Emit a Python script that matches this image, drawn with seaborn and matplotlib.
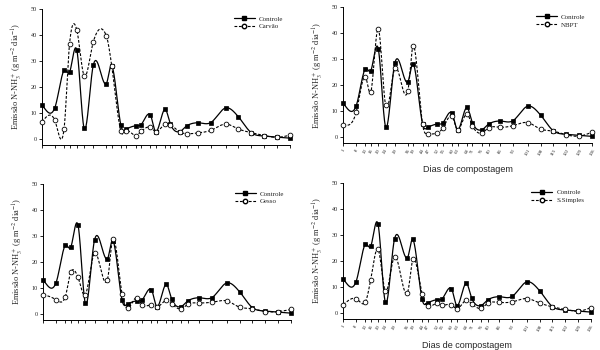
import numpy as np
import pandas as pd
import matplotlib
matplotlib.use("Agg")
import matplotlib.pyplot as plt
import seaborn as sns
from matplotlib.lines import Line2D

sns.set_theme(style="ticks")
plt.rcParams['font.family'] = ['Liberation Serif', 'DejaVu Serif']
plt.rcParams['mathtext.fontset'] = 'stix'

# ---- data ----
days = [1, 8, 13, 16, 20, 24, 29, 36, 39, 44, 47, 52, 55, 60, 63, 68, 71, 76, 80,
        86, 93, 101, 108, 115, 122, 129, 136]
day_labels = [str(d) for d in days]

controle = [13.0, 12.0, 26.3, 25.6, 34.0, 4.0, 28.5, 21.2, 28.2, 5.2, 3.8, 5.0, 5.5,
            9.2, 2.8, 11.4, 5.6, 2.8, 5.1, 6.2, 6.3, 11.9, 8.5, 2.4, 1.1, 0.7, 0.3]
carvao = [6.5, 7.1, 3.8, 36.5, 41.7, 24.2, 37.4, 39.7, 28.0, 2.9, 3.2, 1.3, 2.9,
          4.5, 2.7, 5.7, 5.5, 2.7, 2.0, 2.3, 3.3, 5.7, 3.8, 2.4, 1.3, 0.6, 1.4]
nbpt = [4.7, 9.5, 23.3, 17.3, 41.7, 12.3, 26.5, 17.6, 35.1, 5.1, 1.2, 1.6, 3.5,
        8.0, 2.8, 9.0, 4.4, 1.5, 3.7, 3.8, 4.4, 5.6, 3.1, 2.3, 0.9, 0.4, 1.9]
gesso = [7.4, 5.5, 6.5, 16.0, 14.0, 7.4, 23.4, 13.2, 28.9, 7.5, 2.2, 6.3, 3.4,
         3.4, 2.6, 5.2, 3.8, 1.9, 3.8, 4.2, 4.5, 5.0, 2.6, 2.0, 0.9, 0.9, 1.7]
ssimples = [3.2, 5.5, 4.1, 12.8, 24.5, 8.3, 21.6, 7.7, 20.5, 7.4, 2.6, 3.6, 2.9,
            3.2, 1.5, 4.9, 3.5, 1.7, 3.8, 4.0, 4.2, 5.5, 3.8, 2.3, 1.3, 0.6, 2.0]

panels = [
    ("Carvão", carvao, [0.070, 0.586, 0.413, 0.389], False),
    ("NBPT", nbpt, [0.572, 0.591, 0.415, 0.389], True),
    ("Gesso", gesso, [0.072, 0.086, 0.413, 0.389], False),
    ("S.Simples", ssimples, [0.572, 0.089, 0.413, 0.389], True),
]

PER = 40


def grid(x):
    x = np.asarray(x, float)
    parts = []
    for i in range(len(x) - 1):
        t = np.linspace(0, 1, PER, endpoint=(i == len(x) - 2))
        parts.append((np.full_like(t, i, dtype=int), t))
    idx = np.concatenate([p[0] for p in parts]).astype(int)
    t = np.concatenate([p[1] for p in parts])
    return idx, t


def hermite(x, y):
    x = np.asarray(x, float)
    y = np.asarray(y, float)
    k = len(x)
    m = np.zeros(k)
    m[0] = (y[1] - y[0]) / (x[1] - x[0])
    m[-1] = (y[-1] - y[-2]) / (x[-1] - x[-2])
    for i in range(1, k - 1):
        m[i] = (y[i + 1] - y[i - 1]) / (x[i + 1] - x[i - 1])
    idx, t = grid(x)
    h = x[idx + 1] - x[idx]
    h00 = 2 * t ** 3 - 3 * t ** 2 + 1
    h10 = t ** 3 - 2 * t ** 2 + t
    h01 = -2 * t ** 3 + 3 * t ** 2
    h11 = t ** 3 - t ** 2
    xs = x[idx] + t * h
    ys = h00 * y[idx] + h10 * h * m[idx] + h01 * y[idx + 1] + h11 * h * m[idx + 1]
    return xs, ys


def natural(x, y):
    x = np.asarray(x, float)
    y = np.asarray(y, float)
    k = len(x)
    h = np.diff(x)
    A = np.zeros((k, k))
    b = np.zeros(k)
    A[0, 0] = 1
    A[-1, -1] = 1
    for i in range(1, k - 1):
        A[i, i - 1] = h[i - 1]
        A[i, i] = 2 * (h[i - 1] + h[i])
        A[i, i + 1] = h[i]
        b[i] = 6 * ((y[i + 1] - y[i]) / h[i] - (y[i] - y[i - 1]) / h[i - 1])
    M = np.linalg.solve(A, b)
    idx, t = grid(x)
    hh = x[idx + 1] - x[idx]
    xs = x[idx] + t * hh
    t0 = x[idx + 1] - xs
    t1 = xs - x[idx]
    ys = (M[idx] * t0 ** 3 / (6 * hh) + M[idx + 1] * t1 ** 3 / (6 * hh)
          + (y[idx] / hh - M[idx] * hh / 6) * t0
          + (y[idx + 1] / hh - M[idx + 1] * hh / 6) * t1)
    return xs, ys


def smooth_curve(x, y):
    xs, a = hermite(x, y)
    _, b = natural(x, y)
    return xs, 0.5 * a + 0.5 * b


fig = plt.figure(figsize=(6, 3.5), dpi=100)

for name, vals, pos, show_x in panels:
    ax = fig.add_axes(pos)
    xs, yc = smooth_curve(days, controle)
    _, yt = smooth_curve(days, vals)
    curve = pd.DataFrame({"x": xs, "c": yc, "t": yt})
    sns.lineplot(data=curve, x="x", y="c", ax=ax, color="black", lw=0.9,
                 sort=False, estimator=None)
    sns.lineplot(data=curve, x="x", y="t", ax=ax, color="black", lw=0.8,
                 sort=False, estimator=None, linestyle=(0, (2.5, 1.5)))
    pts = pd.DataFrame({"d": days, "c": controle, "t": vals})
    ax.plot(pts["d"], pts["c"], ls="none", marker="s", ms=3.0, mfc="black",
            mec="black", mew=0.5, clip_on=False, zorder=4)
    ax.plot(pts["d"], pts["t"], ls="none", marker="o", ms=3.4, mfc="white",
            mec="black", mew=0.6, clip_on=False, zorder=5)

    ax.set_xlim(days[0], days[-1])
    ax.set_ylim(-2.3, 50)
    ax.set_yticks([0, 10, 20, 30, 40, 50])
    ax.set_xticks(days)
    ax.tick_params(axis="both", length=2.2, width=0.6, pad=1.5, labelsize=4.5,
                   color="black")
    if show_x:
        ax.set_xticklabels(day_labels, rotation=60, fontsize=3.5)
        ax.set_xlabel("Dias de compostagem", fontsize=6.5,
                      family=['Liberation Sans', 'DejaVu Sans'], labelpad=6)
    else:
        ax.set_xticklabels([""] * len(days))
        ax.set_xlabel("")
    ax.set_ylabel(r"Emissão N-NH$_3^+$ (g m$^{-2}$ dia$^{-1}$)", fontsize=6,
                  labelpad=5)
    for s in ["top", "right"]:
        ax.spines[s].set_visible(False)
    for s in ["left", "bottom"]:
        ax.spines[s].set_linewidth(0.7)
        ax.spines[s].set_color("black")

    handles = [
        Line2D([0], [0], color="black", lw=0.9, marker="s", ms=3.0,
               mfc="black", mec="black"),
        Line2D([0], [0], color="black", lw=0.8, ls=(0, (2.5, 1.5)), marker="o",
               ms=3.2, mfc="white", mec="black"),
    ]
    ax.legend(handles, ["Controle", name], loc="upper right",
              bbox_to_anchor=(0.99, 0.98), frameon=False, fontsize=5,
              handlelength=3, handletextpad=0.6, labelspacing=0.3,
              borderaxespad=0.2)

fig.savefig("out.png", dpi=100, facecolor="white")
